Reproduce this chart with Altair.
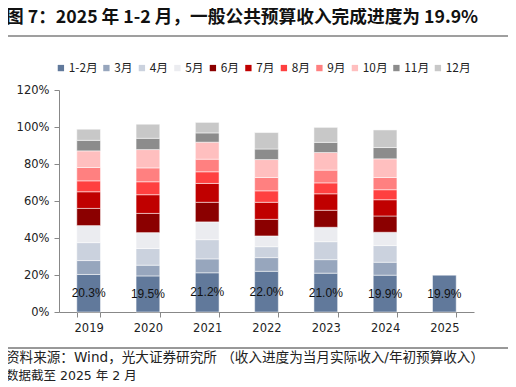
import altair as alt
import pandas as pd

years = ["2019", "2020", "2021", "2022", "2023", "2024", "2025"]
months = ["1-2月", "3月", "4月", "5月", "6月", "7月", "8月", "9月", "10月", "11月", "12月"]
colors = ["#61799b", "#97a6bd", "#cbd2de", "#ebecf0", "#8b0000", "#c00000",
          "#ff4040", "#ff8080", "#ffbfbf", "#8c8c8c", "#c8c8c8"]

v_m1_2 = [20.3, 19.5, 21.2, 22.0, 21.0, 19.9, 19.9]
v_m3 = [7.5, 5.8, 7.5, 7.4, 7.3, 7.0, None]
v_m4 = [9.7, 9.0, 10.4, 5.9, 9.7, 9.0, None]
v_m5 = [9.2, 8.6, 9.6, 5.8, 7.8, 7.2, None]
v_m6 = [9.3, 10.4, 10.6, 9.0, 9.2, 8.8, None]
v_m7 = [9.0, 10.1, 10.2, 9.2, 8.9, 8.8, None]
v_m8 = [5.9, 7.0, 6.3, 6.2, 5.9, 5.4, None]
v_m9 = [7.2, 7.5, 6.8, 7.2, 6.9, 6.6, None]
v_m10 = [9.0, 9.9, 9.2, 9.7, 9.5, 10.1, None]
v_m11 = [5.7, 6.1, 5.0, 5.7, 5.5, 6.1, None]
v_m12 = [6.0, 7.6, 5.7, 8.9, 8.1, 9.5, None]

series = [v_m1_2, v_m3, v_m4, v_m5, v_m6, v_m7, v_m8, v_m9, v_m10, v_m11, v_m12]

y_ticks = [0, 20, 40, 60, 80, 100, 120]

title_text = "图 7：2025 年 1-2 月，一般公共预算收入完成进度为 19.9%"
source1 = "资料来源：Wind，光大证券研究所     （收入进度为当月实际收入/年初预算收入）"
source2 = "数据截至 2025 年 2 月"

rows = []
for j, (m, vals) in enumerate(zip(months, series)):
    for y, v in zip(years, vals):
        if v is not None:
            rows.append({"year": y, "month": m, "value": v, "idx": j})
df = pd.DataFrame(rows)

lab_df = pd.DataFrame({"year": years, "v": v_m1_2,
                       "label": [f"{v:.1f}%" for v in v_m1_2]})

x_axis = alt.Axis(title=None, labelAngle=0, labelFont="DejaVu Sans",
                  labelFontSize=11.5, labelColor="#222", tickBand="extent",
                  tickSize=5, tickColor="#888", domainColor="#888",
                  labelPadding=5)
y_axis = alt.Axis(title=None, values=y_ticks,
                  labelExpr="datum.value + '%'", grid=False,
                  labelOverlap=False,
                  labelFont="DejaVu Sans", labelFontSize=11.5,
                  labelColor="#222", tickSize=5, tickColor="#888",
                  domainColor="#888", labelPadding=5)
x_scale = alt.Scale(paddingInner=0.6, paddingOuter=0.3)
y_scale = alt.Scale(domain=[0, 120], nice=False)

bars = alt.Chart(df).mark_bar(stroke="white", strokeWidth=0.5).encode(
    x=alt.X("year:N", sort=years, scale=x_scale, axis=x_axis),
    y=alt.Y("value:Q", stack="zero", scale=y_scale, axis=y_axis),
    color=alt.Color("month:N", scale=alt.Scale(domain=months, range=colors),
                    legend=alt.Legend(orient="none", legendX=-4, legendY=-28,
                                      direction="horizontal", title=None,
                                      symbolType="square", symbolSize=40,
                                      symbolStrokeWidth=0,
                                      labelFont="Noto Sans CJK SC",
                                      labelFontSize=11.8, labelColor="#222",
                                      labelOffset=2, columnPadding=2.5)),
    order=alt.Order("idx:Q", sort="ascending"),
)

labels = alt.Chart(lab_df).transform_calculate(mid="datum.v / 2").mark_text(
    font="Liberation Sans", fontSize=12, color="#111",
    baseline="middle"
).encode(x=alt.X("year:N", sort=years, scale=x_scale, axis=x_axis),
         y=alt.Y("mid:Q", scale=y_scale, axis=y_axis), text="label:N")

one = pd.DataFrame({"t": [title_text], "s1": [source1], "s2": [source2]})
base = alt.Chart(one)

title = base.mark_text(align="left", baseline="middle", fontSize=17.7,
                       fontWeight="bold", font="Noto Sans CJK SC", color="#111"
                       ).encode(x=alt.value(-53), y=alt.value(-72), text="t:N")
top_line = base.mark_rule(color="#7f7f7f", strokeWidth=1.5).encode(
    x=alt.value(-53), x2=alt.value(451), y=alt.value(-54))
bot_line = base.mark_rule(color="#333", strokeWidth=1).encode(
    x=alt.value(-53), x2=alt.value(451), y=alt.value(258))
src1 = base.mark_text(align="left", baseline="middle", fontSize=13.6,
                      font="DejaVu Sans, Noto Sans CJK SC", color="#222"
                      ).encode(x=alt.value(-53), y=alt.value(268), text="s1:N")
src2 = base.mark_text(align="left", baseline="middle", fontSize=12.5,
                      font="DejaVu Sans, Noto Sans CJK SC", color="#222"
                      ).encode(x=alt.value(-53), y=alt.value(286), text="s2:N")

chart = alt.layer(bars, labels, title, top_line, bot_line, src1, src2).properties(
    width=415, height=222,
    autosize=alt.AutoSizeParams(type="none"),
    padding={"left": 51, "top": 82, "right": 34, "bottom": 73},
).configure_view(stroke=None).configure_axisY(labelOverlap=False)

chart.save("out.html", embed_options={"renderer": "svg", "actions": False})
